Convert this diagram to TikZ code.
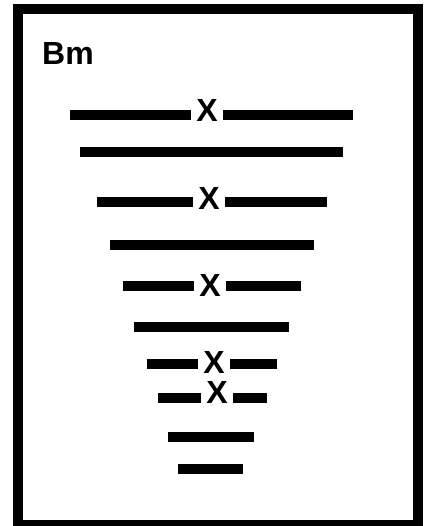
\documentclass[tikz,border=0pt]{standalone}
\usepackage{fontspec}
\setmainfont{Liberation Sans}
\usepackage{tikz}
\usetikzlibrary{positioning, calc}

\begin{document}
\begin{tikzpicture}[
  x=1pt, y=-1pt,
  frame/.style={draw, line width=10pt},
  bar/.style={line width=9.5pt},
  crossing/.style={inner sep=0pt, outer sep=5pt, font=\fontsize{32}{32}\selectfont\bfseries}
]

  \useasboundingbox (0,0) rectangle (423,526);

  % Outer frame and label
  \draw[frame] (18,9) rectangle (418,525);
  \node (label) [anchor=base west, inner sep=0pt, font=\fontsize{32}{32}\selectfont\bfseries] at (42,65) {Bm};

  % Bars with a crossing mark
  \node (x1) [crossing] at (207,110) {X};
  \draw[bar] (70,115) -- (70,115 -| x1.west);
  \draw[bar] (353,115) -- (353,115 -| x1.east);

  \node (x2) [crossing] at (209,198) {X};
  \draw[bar] (97,202) -- (97,202 -| x2.west);
  \draw[bar] (327,202) -- (327,202 -| x2.east);

  \node (x3) [crossing] at (210,285) {X};
  \draw[bar] (123,286) -- (123,286 -| x3.west);
  \draw[bar] (301,286) -- (301,286 -| x3.east);

  \node (x4) [crossing] at (214,362) {X};
  \draw[bar] (147,364) -- (147,364 -| x4.west);
  \draw[bar] (277,364) -- (277,364 -| x4.east);

  \node (x5) [crossing] at (217,392) {X};
  \draw[bar] (158,398) -- (158,398 -| x5.west);
  \draw[bar] (267,398) -- (267,398 -| x5.east);

  % Plain bars
  \draw[bar] (80,152) -- (343,152);
  \draw[bar] (110,245) -- (314,245);
  \draw[bar] (134,327) -- (289,327);
  \draw[bar] (168,437) -- (254,437);
  \draw[bar] (178,469) -- (243,469);

\end{tikzpicture}
\end{document}
